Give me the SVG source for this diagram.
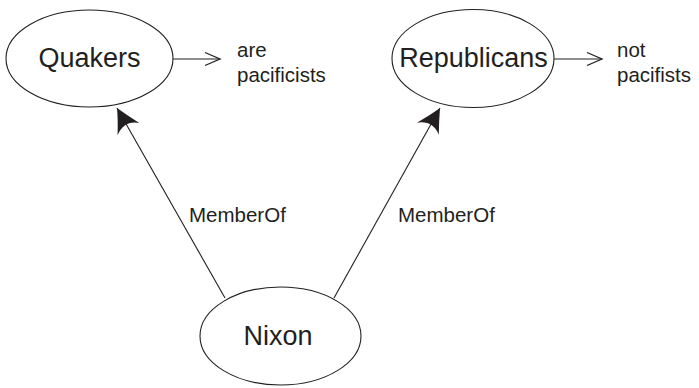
<svg xmlns="http://www.w3.org/2000/svg" width="699" height="388" viewBox="0 0 699 388">
  <style>
    .node { fill: #ffffff; stroke: #231f20; stroke-width: 1.1; }
    .name { font-family: "Liberation Sans", Arial, sans-serif; font-size: 27px; fill: #231f20; text-anchor: middle; }
    .note { font-family: "Liberation Sans", Arial, sans-serif; font-size: 20.5px; fill: #231f20; }
    .edge { fill: none; stroke: #231f20; stroke-width: 1.1; }
  </style>
  <defs>
    <!-- open chevron for property arrows -->
    <marker id="open" markerUnits="userSpaceOnUse" markerWidth="20" markerHeight="20" refX="16" refY="8" orient="auto" overflow="visible">
      <path d="M1,1.5 L16,8 L1,14.5" fill="none" stroke="#231f20" stroke-width="1.3"/>
    </marker>
    <!-- solid barbed head for membership links -->
    <marker id="barb" markerUnits="userSpaceOnUse" markerWidth="30" markerHeight="30" refX="0" refY="0" orient="auto" overflow="visible">
      <path d="M0,0 Q-11,-5 -24,-13 Q-14,0 -24,12 Q-11,5 0,0 Z" fill="#231f20"/>
    </marker>
  </defs>

  <g id="connectors">
    <line class="edge" x1="225" y1="298" x2="117" y2="108" marker-end="url(#barb)"/>
    <line class="edge" x1="334" y1="298" x2="440" y2="108" marker-end="url(#barb)"/>
    <line class="edge" x1="173" y1="59" x2="220" y2="59" marker-end="url(#open)"/>
    <line class="edge" x1="554" y1="59" x2="602" y2="59" marker-end="url(#open)"/>
    <text class="note" x="189" y="222">MemberOf</text>
    <text class="note" x="398" y="222">MemberOf</text>
  </g>

  <g id="quakers">
    <ellipse class="node" cx="89.5" cy="58.5" rx="83.5" ry="48.5"/>
    <text class="name" x="89.5" y="67">Quakers</text>
  </g>

  <g id="republicans">
    <ellipse class="node" cx="473" cy="58.5" rx="81" ry="49"/>
    <text class="name" x="473.5" y="67">Republicans</text>
  </g>

  <g id="nixon">
    <ellipse class="node" cx="280.5" cy="336" rx="80.5" ry="49"/>
    <text class="name" x="278" y="345">Nixon</text>
  </g>

  <g id="pacifist-note">
    <text class="note" x="237" y="57">are</text>
    <text class="note" x="237" y="82">pacificists</text>
  </g>

  <g id="non-pacifist-note">
    <text class="note" x="617" y="57">not</text>
    <text class="note" x="617" y="82">pacifists</text>
  </g>
</svg>
